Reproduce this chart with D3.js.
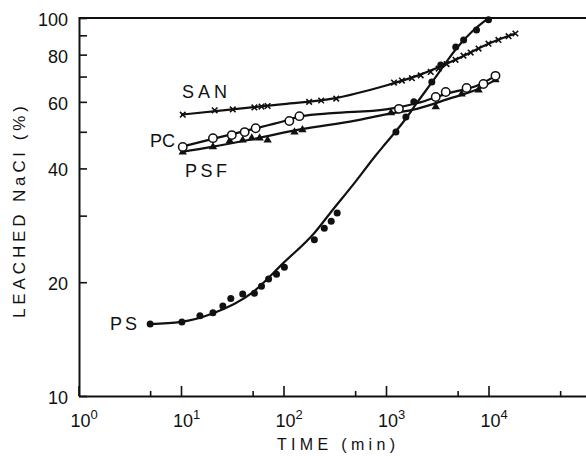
<!DOCTYPE html>
<html><head><meta charset="utf-8">
<script src="https://cdn.jsdelivr.net/npm/d3@7"></script>
<style>
body{margin:0;background:#fff}
svg{display:block}
text{font-family:"Liberation Sans",Arial,Helvetica,sans-serif;fill:#111}
</style>
</head><body>
<svg id="c" width="586" height="456"></svg>
<script>
// ---- tick definitions ----
const xMajorTicks = [1, 10, 100, 1000, 10000];
const xMajorExp = ["0", "1", "2", "3", "4"];
const xMinorTicks = [5, 50, 500, 5000, 50000];
const yTicks = [10, 20, 30, 40, 50, 60, 70, 80, 90, 100];
const yLabelled = [10, 20, 40, 60, 80, 100];
const seriesNames = ["SAN", "PC", "PSF", "PS"];

// ---- SAN (x marks) ----
const sanT = [10.4, 21.3, 32, 52, 61, 70, 178, 233, 327, 1196, 1430, 1790, 2180, 2730, 3260, 3900, 4770, 5700, 6700, 8000, 10000, 12500, 15700, 18300];
const sanV = [55.5, 57, 57.3, 58, 58.3, 58.5, 60, 60.5, 61.2, 67.5, 68.3, 69.3, 70.5, 72, 73.5, 75.5, 77.5, 79.5, 81, 83, 85.5, 87.5, 89.5, 91];
const sanCurveT = [10, 30, 100, 300, 1000, 2000, 5000, 10000, 18300];
const sanCurveV = [55.5, 57.2, 59.2, 61.2, 66.3, 70.3, 78, 85.5, 91];

// ---- PC (open circles) ----
const pcT = [10.4, 20.5, 31.3, 41.8, 53.5, 114, 143, 1337, 3056, 3827, 6110, 8920, 11700];
const pcV = [45.6, 48.1, 49, 49.9, 51.1, 53.4, 55, 57.5, 61.8, 63.7, 65.3, 66.9, 70.3];
const pcCurveT = [10, 20, 50, 100, 150, 300, 1000, 2000, 4000, 8000, 11700];
const pcCurveV = [45.6, 47.8, 50.8, 53.3, 55, 56, 57.3, 59.5, 63.2, 66.5, 70.3];

// ---- PSF (filled triangles) ----
const psfT = [10.4, 20.5, 29.9, 40, 49, 58.5, 70, 128, 153, 1118, 3056, 5470, 8000, 11700];
const psfV = [44.2, 45.6, 47.3, 47.5, 48.1, 48.1, 47.5, 49.9, 50.6, 56.1, 58.2, 62.9, 64.5, 68.6];
const psfCurveT = [10, 20, 50, 150, 500, 1000, 2000, 4000, 8000, 11700];
const psfCurveV = [44.2, 45.6, 47.8, 50.8, 53.5, 55.6, 57.5, 61, 65, 68.6];

// ---- PS (filled circles) ----
const psT = [5, 10.2, 15.3, 20.5, 25.6, 30.6, 40, 52, 61, 71.5, 85.5, 102, 200, 250, 292, 334, 1250, 1563, 1870, 2800, 3420, 4790, 5720, 7640, 10000];
const psV = [15.5, 15.7, 16.3, 16.6, 17.3, 18.1, 18.6, 18.7, 19.5, 20.4, 21.0, 21.9, 25.9, 27.8, 29.0, 30.5, 49.9, 54.7, 60, 67.7, 75.1, 83.8, 87.5, 92.9, 99];
const psCurveT = [5, 10, 20, 50, 100, 200, 300, 500, 800, 1000, 1500, 2000, 3000, 4000, 5000, 7000, 10000];
const psCurveV = [15.5, 15.7, 16.5, 18.8, 22.5, 27.0, 31.0, 36.8, 43.4, 46.7, 53.4, 59.6, 69.3, 77.4, 83.8, 92.4, 100];

const zip = (a, b) => a.map((d, i) => [d, b[i]]);

const svg = d3.select("#c");
const x = d3.scaleLog().domain([1, 1e5]).range([78.5, 591]);
const y = d3.scaleLog().domain([10, 100]).range([396, 18]);
const ink = "#111";

// ---- axes ----
const gx = svg.append("g").attr("transform", "translate(0,396)")
  .call(d3.axisBottom(x).tickValues(xMajorTicks).tickSizeInner(-10).tickSizeOuter(0).tickFormat(""));
gx.select(".domain").attr("stroke", ink).attr("stroke-width", 2);
gx.selectAll(".tick line").attr("stroke", ink).attr("stroke-width", 1.6);

const gxm = svg.append("g").attr("transform", "translate(0,396)")
  .call(d3.axisBottom(x).tickValues(xMinorTicks).tickSizeInner(-5).tickSizeOuter(0).tickFormat(""));
gxm.select(".domain").remove();
gxm.selectAll(".tick line").attr("stroke", ink).attr("stroke-width", 1.6);

xMajorTicks.forEach((t, i) => {
  const tx = svg.append("text").attr("x", x(t) - 8).attr("y", 427).attr("font-size", 18);
  tx.append("tspan").text("10");
  tx.append("tspan").attr("font-size", 13).attr("dy", -8).text(xMajorExp[i]);
});

const gy = svg.append("g").attr("transform", "translate(79,0)")
  .call(d3.axisLeft(y).tickValues(yTicks).tickSizeInner(-8).tickSizeOuter(0).tickPadding(11)
    .tickFormat(d => yLabelled.includes(d) ? String(d) : ""));
gy.select(".domain").attr("stroke", ink).attr("stroke-width", 2);
gy.selectAll(".tick line").attr("stroke", ink).attr("stroke-width", 1.6);
gy.selectAll(".tick text").attr("font-size", 18).attr("font-family", "Liberation Sans, Arial, sans-serif")
  .attr("fill", ink).attr("dy", "0.42em");

// top frame line
svg.append("line").attr("x1", x(1)).attr("x2", 586).attr("y1", y(100)).attr("y2", y(100))
  .attr("stroke", ink).attr("stroke-width", 2);

// axis titles
svg.append("text").attr("transform", "translate(25,212) rotate(-90)")
  .attr("text-anchor", "middle").attr("font-size", 17)
  .attr("textLength", 212).attr("lengthAdjust", "spacing")
  .text("LEACHED NaCl (%)");
svg.append("text").attr("x", 277).attr("y", 450).attr("font-size", 16)
  .attr("textLength", 118).attr("lengthAdjust", "spacing")
  .text("TIME (min)");

// ---- curves ----
const line = d3.line().x(d => x(d[0])).y(d => y(d[1])).curve(d3.curveMonotoneX);
[[sanCurveT, sanCurveV], [pcCurveT, pcCurveV], [psfCurveT, psfCurveV], [psCurveT, psCurveV]].forEach(([t, v]) => {
  svg.append("path").datum(zip(t, v)).attr("d", line)
    .attr("fill", "none").attr("stroke", ink).attr("stroke-width", 2.2);
});

// ---- markers ----
// SAN: x marks
svg.append("g").selectAll("path").data(zip(sanT, sanV)).join("path")
  .attr("transform", d => `translate(${x(d[0])},${y(d[1])})`)
  .attr("d", d3.symbol(d3.symbolX, 22))
  .attr("fill", "none").attr("stroke", ink).attr("stroke-width", 1.6);
// PSF: filled triangles
svg.append("g").selectAll("path").data(zip(psfT, psfV)).join("path")
  .attr("transform", d => `translate(${x(d[0])},${y(d[1])})`)
  .attr("d", d3.symbol(d3.symbolTriangle, 30))
  .attr("fill", ink);
// PC: open circles
svg.append("g").selectAll("circle").data(zip(pcT, pcV)).join("circle")
  .attr("cx", d => x(d[0])).attr("cy", d => y(d[1])).attr("r", 4.2)
  .attr("fill", "#fff").attr("stroke", ink).attr("stroke-width", 1.5);
// PS: filled circles
svg.append("g").selectAll("circle").data(zip(psT, psV)).join("circle")
  .attr("cx", d => x(d[0])).attr("cy", d => y(d[1])).attr("r", 3.5)
  .attr("fill", ink);

// ---- series labels ----
const labelPos = {SAN: [182, 98, 45], PC: [150, 147, 25], PSF: [185, 177, 42], PS: [110, 330, 27]};
seriesNames.forEach(n => {
  const p = labelPos[n];
  svg.append("text").attr("x", p[0]).attr("y", p[1]).attr("font-size", 18)
    .attr("textLength", p[2]).attr("lengthAdjust", "spacing").text(n);
});
</script>
</body></html>
